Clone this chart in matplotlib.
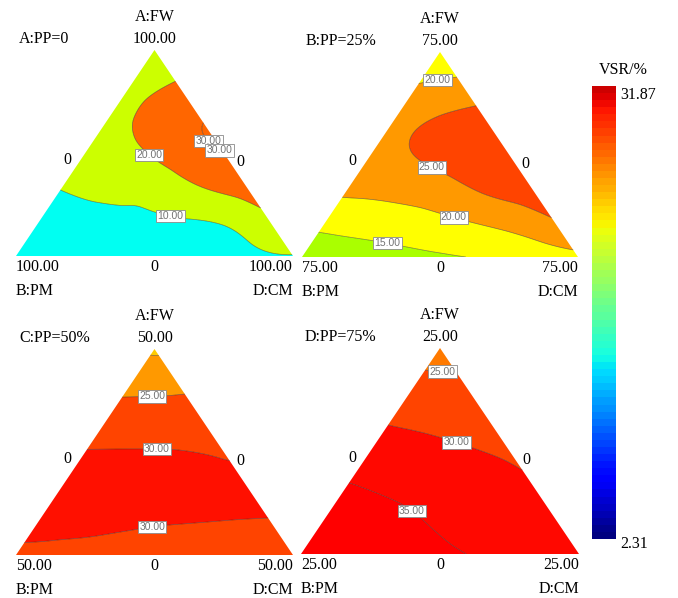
import numpy as np
import matplotlib
matplotlib.use("Agg")
import matplotlib.pyplot as plt
import matplotlib.tri as mtri
import matplotlib as mpl
from matplotlib.colors import Normalize, ListedColormap

# ---------------- data ----------------
panel_titles = ["A:PP=0", "B:PP=25%", "C:PP=50%", "D:PP=75%"]
apex_labels = ["100.00", "75.00", "50.00", "25.00"]
axis_names = ["A:FW", "B:PM", "D:CM"]
vsr_min, vsr_max = 2.31, 31.87
cbar_title = "VSR/%"

# VSR on a triangular lattice: rows from A=0 (base) to A=1 (apex),
# each row from the B:PM edge (D=0) to the D:CM edge (B=0)
vsr_pp0 = [
    [5.0, 5.5, 6.0, 6.7, 7.3, 8.1, 9.6],
    [7.7, 8.4, 8.9, 9.4, 10.8, 17.5],
    [10.2, 11.4, 13.5, 19.8, 25.0],
    [12.5, 17.5, 25.0, 30.05],
    [14.0, 24.3, 29.6],
    [14.0, 21.0],
    [13.0],
]
vsr_pp25 = [
    [12.0, 12.6, 13.4, 14.5, 15.4, 16.8, 18.6],
    [16.3, 17.2, 18.2, 19.6, 21.5, 24.4],
    [21.0, 21.5, 23.0, 25.8, 27.5],
    [23.0, 25.2, 27.3, 28.2],
    [23.0, 25.5, 27.0],
    [20.3, 21.5],
    [17.0],
]
vsr_pp50 = [
    [29.0, 28.9, 28.75, 28.55, 28.3, 27.9, 27.5],
    [31.3, 30.9, 30.5, 30.2, 30.0, 29.85],
    [31.5, 31.6, 31.5, 31.3, 31.0],
    [30.2, 30.25, 30.15, 29.5],
    [26.9, 27.1, 27.5],
    [23.7, 23.7],
    [19.0],
]
vsr_pp75 = [
    [38.0, 37.1, 36.2, 35.4, 34.7, 33.7, 32.5],
    [36.5, 35.8, 35.1, 34.2, 33.2, 32.0],
    [35.1, 34.5, 33.6, 32.3, 30.6],
    [33.0, 31.8, 30.5, 29.2],
    [29.0, 28.3, 27.6],
    [25.9, 25.6],
    [23.4],
]

fill_levels = [
    [0, 10, 20, 30, 50],
    [0, 15, 20, 25, 50],
    [0, 20, 25, 30, 50],
    [0, 25, 30, 35, 50],
]
label_levels = [[10, 20, 30], [15, 20, 25], [25, 30], [25, 30, 35]]
plain_levels = [[], [], [20], []]

# ---------------- styles / layout ----------------
band_colors = [
    ["#00FFF2", "#CCFF00", "#FF6600", "#FF6600"],
    ["#AAFF00", "#FFFF00", "#FF9900", "#FF4400"],
    ["#FFCC00", "#FF9900", "#FF4400", "#FF1000"],
    ["#FF7A00", "#FF4400", "#FF0800", "#FF0000"],
]
label_pos = [
    [(0.726, 0.597), (0.744, 0.529), (0.48, 0.49), (0.556, 0.184)],
    [(0.488, 0.888), (0.464, 0.42), (0.547, 0.18), (0.312, 0.088)],
    [(0.491, 0.786), (0.509, 0.515), (0.491, 0.146)],
    [(0.51, 0.913), (0.561, 0.549), (0.398, 0.209)],
]
# triangle placement in pixels: left, bottom, width, height
W_PX, H_PX = 678, 598
tri_px = [(16, 256, 277, 206), (302, 257, 276, 205),
          (16, 555, 277, 206), (301, 554, 278, 206)]

serif = "Liberation Serif"
sans = "Liberation Sans"
fs = 11.5

fig = plt.figure(figsize=(W_PX / 100, H_PX / 100), dpi=100)

all_data = [vsr_pp0, vsr_pp25, vsr_pp50, vsr_pp75]

for p, data in enumerate(all_data):
    l, b, w, h = tri_px[p]
    ax = fig.add_axes([l / W_PX, 1 - b / H_PX, w / W_PX, h / H_PX])
    ax.set_xlim(0, 1)
    ax.set_ylim(0, 1)
    ax.axis("off")

    n = len(data) - 1
    xs, ys, zs = [], [], []
    for i, row in enumerate(data):
        for k, v in enumerate(row):
            xs.append(k / n + i / (2 * n))
            ys.append(i / n)
            zs.append(v)
    xs, ys, zs = np.array(xs), np.array(ys), np.array(zs)
    tri = mtri.Triangulation(xs, ys)
    interp = mtri.CubicTriInterpolator(tri, zs, kind="min_E")
    refiner = mtri.UniformTriRefiner(tri)
    tri_f, z_f = refiner.refine_field(zs, triinterpolator=interp, subdiv=4)

    ax.tricontourf(tri_f, z_f, levels=fill_levels[p], colors=band_colors[p],
                   antialiased=True)
    if plain_levels[p]:
        ax.tricontour(tri_f, z_f, levels=plain_levels[p], colors="#222222",
                      linewidths=0.5, alpha=0.55)
    cs = ax.tricontour(tri_f, z_f, levels=label_levels[p], colors="#222222",
                       linewidths=0.5, alpha=0.55)
    texts = ax.clabel(cs, manual=label_pos[p], fmt="%.2f", fontsize=7.5,
                      inline=False, colors="black")
    for t in texts:
        t.set_rotation(0)
        t.set_fontfamily(sans)
        t.set_bbox(dict(boxstyle="square,pad=0.12", fc="white",
                        ec="#8a8a8a", lw=0.6))
        t.set_zorder(5)

    dy1 = 11 / h
    dy2 = 33 / h
    kw = dict(fontsize=fs, family=serif, clip_on=False)
    ax.text(0.5, 1 + dy2, axis_names[0], ha="center", va="center", **kw)
    ax.text(0.5, 1 + dy1, apex_labels[p], ha="center", va="center", **kw)
    ax.text(0.012, 1 + dy1, panel_titles[p], ha="left", va="center", **kw)
    ax.text(0.0, -dy1, apex_labels[p], ha="left", va="center", **kw)
    ax.text(0.5, -dy1, "0", ha="center", va="center", **kw)
    ax.text(1.0, -dy1, apex_labels[p], ha="right", va="center", **kw)
    ax.text(0.0, -dy2 - 2 / h, axis_names[1], ha="left", va="center", **kw)
    ax.text(1.0, -dy2 - 2 / h, axis_names[2], ha="right", va="center", **kw)
    ax.text(0.184, 0.466, "0", ha="center", va="center", **kw)
    ax.text(0.809, 0.456, "0", ha="center", va="center", **kw)

# colour bar (jet, without the darkest maroon end)
jet = plt.get_cmap("jet")
cbar_cmap = ListedColormap(jet(np.linspace(0.0, 0.93, 64)))
cax = fig.add_axes([592 / W_PX, 1 - 539 / H_PX, 24 / W_PX, 453 / H_PX])
cb = mpl.colorbar.ColorbarBase(cax, cmap=cbar_cmap,
                               norm=Normalize(vsr_min, vsr_max))
cb.outline.set_visible(False)
cb.set_ticks([])
fig.text(620 / W_PX, 1 - 87 / H_PX, f"{vsr_max:.2f}", ha="left", va="top",
         fontsize=fs, family=serif)
fig.text(620 / W_PX, 1 - 544 / H_PX, f"{vsr_min:.2f}", ha="left",
         va="center", fontsize=fs, family=serif)
fig.text(623 / W_PX, 1 - 70 / H_PX, cbar_title, ha="center", va="center",
         fontsize=fs, family=serif)

fig.savefig("out.png", dpi=100, facecolor="white")
